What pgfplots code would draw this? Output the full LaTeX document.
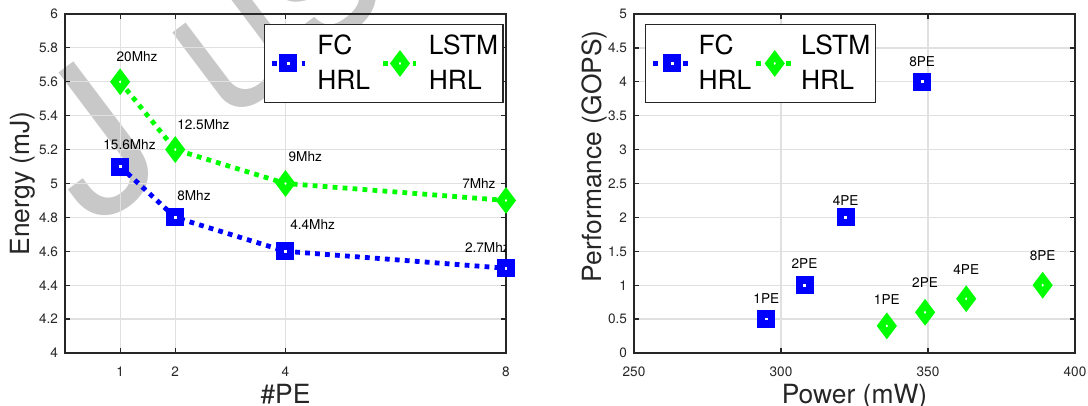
\documentclass[border=0pt]{standalone}
\usepackage{fontspec}
\setmainfont{TeX Gyre Heros}
\usepackage{pgfplots}
\pgfplotsset{compat=1.18}

\definecolor{mblue}{rgb}{0,0,1}
\definecolor{mgreen}{rgb}{0,1,0}
\definecolor{axgray}{RGB}{38,38,38}
\definecolor{wmark}{RGB}{200,200,200}

\newcommand{\lbl}{\fontsize{6.8}{8}\selectfont}

\pgfplotsset{
  panel/.style={
    scale only axis, width=220.5pt, height=169.5pt,
    axis line style={axgray, line width=0.7pt},
    tick style={axgray, line width=0.6pt},
    major tick length=2.5pt, tick align=inside,
    grid=major, grid style={black!12, line width=0.6pt},
    tick label style={font=\lbl, text=axgray},
    /pgf/number format/assume math mode=true,
    xticklabel style={yshift=-3.5pt},
    label style={font=\fontsize{13.2}{16}\selectfont, text=axgray},
    legend style={draw=axgray, line width=0.6pt,
      font=\fontsize{13.2}{17.5}\selectfont,
      legend columns=2, cells={anchor=west, align=left},
      nodes={inner sep=0pt},
      inner xsep=2.5pt, inner ysep=5pt},
  },
  fcline/.style={mblue, line width=2.4pt, dash pattern=on 2.4pt off 2.6pt,
    mark=square*, mark size=2.6pt,
    mark options={solid, fill=white, draw=mblue, line width=3.8pt}},
  lstmline/.style={mgreen, line width=2.4pt, dash pattern=on 2.4pt off 2.6pt,
    mark=diamond*, mark size=3.8pt,
    mark options={solid, fill=white, draw=mgreen, line width=3.5pt}},
}

\begin{document}
\begin{tikzpicture}
% watermark
\begin{scope}[every node/.style={rotate=37, anchor=base west, text=wmark,
    inner sep=0pt, font=\fontsize{100}{100}\selectfont}]
\node at (13.95pt,61.5pt) {J};
\node at (80.25pt,114.35pt) {ust Accepted};
\end{scope}

% left panel: energy vs number of PEs
\begin{axis}[panel,
  xmin=0, xmax=8, ymin=4, ymax=6,
  xtick={1,2,4,8},
  ytick={4,4.2,4.4,4.6,4.8,5,5.2,5.4,5.6,5.8,6},
  xlabel={\#PE}, ylabel={Energy (mJ)},
  xlabel style={at={(axis description cs:0.5,-0.148)}, anchor=base},
  ylabel style={at={(axis description cs:-0.0816,0.5)}, anchor=base},
  legend style={at={(0.451,0.9705)}, anchor=north west,
    /tikz/every odd column/.append style={column sep=5pt},
    /tikz/every even column/.append style={column sep=5.5pt}},
  legend image code/.code={\draw[mark repeat=2,mark phase=2,#1]
    plot coordinates {(0pt,0pt)(8.25pt,0pt)(16.5pt,0pt)};},
]
\addplot[fcline] coordinates {(1,5.1)(2,4.8)(4,4.6)(8,4.5)};
\addlegendentry{FC\\HRL}
\addplot[lstmline] coordinates {(1,5.6)(2,5.2)(4,5.0)(8,4.9)};
\addlegendentry{LSTM\\HRL}
\begin{scope}[every node/.style={anchor=base west, inner sep=0pt, font=\lbl, text=black}]
\node at (axis cs:0.93,5.72) {20Mhz};
\node at (axis cs:0.69,5.20) {15.6Mhz};
\node at (axis cs:2.03,5.316) {12.5Mhz};
\node at (axis cs:2.03,4.90) {8Mhz};
\node at (axis cs:4.05,5.127) {9Mhz};
\node at (axis cs:4.08,4.726) {4.4Mhz};
\node at (axis cs:7.2,4.973) {7Mhz};
\node at (axis cs:7.25,4.59) {2.7Mhz};
\end{scope}
\end{axis}

% right panel: performance vs power
\begin{axis}[panel, at={(284.5pt,0pt)}, anchor=south west,
  xmin=250, xmax=400, ymin=0, ymax=5,
  xtick={250,300,350,400},
  ytick={0,0.5,1,1.5,2,2.5,3,3.5,4,4.5,5},
  xlabel={Power (mW)}, ylabel={Performance (GOPS)},
  xlabel style={at={(axis description cs:0.5,-0.148)}, anchor=base},
  ylabel style={at={(axis description cs:-0.0736,0.58)}, anchor=base},
  legend style={at={(0.0253,0.9705)}, anchor=north west,
    /tikz/every odd column/.append style={column sep=2.5pt},
    /tikz/every even column/.append style={column sep=1pt}},
  legend image code/.code={\path (0pt,0pt) -- (19pt,0pt);
    \draw[mark repeat=2,mark phase=2,#1,/tikz/only marks]
    plot coordinates {(0pt,0pt)(9.5pt,0pt)(19pt,0pt)};},
]
\addplot[fcline, only marks] coordinates {(295,0.5)(308,1)(322,2)(348,4)};
\addlegendentry{FC\\HRL}
\addplot[lstmline, only marks] coordinates {(336,0.4)(349,0.6)(363,0.8)(389,1)};
\addlegendentry{LSTM\\HRL}
\begin{scope}[every node/.style={anchor=base, inner sep=0pt, font=\lbl, text=black}]
\node at (axis cs:295,0.737) {1PE};
\node at (axis cs:308,1.24) {2PE};
\node at (axis cs:322,2.18) {4PE};
\node at (axis cs:348,4.23) {8PE};
\node at (axis cs:336,0.71) {1PE};
\node at (axis cs:349,0.96) {2PE};
\node at (axis cs:363,1.165) {4PE};
\node at (axis cs:389,1.357) {8PE};
\end{scope}
\end{axis}

\pgfresetboundingbox
\useasboundingbox (-32.5pt,-26.5pt) rectangle (511.5pt,176.5pt);
\end{tikzpicture}
\end{document}
